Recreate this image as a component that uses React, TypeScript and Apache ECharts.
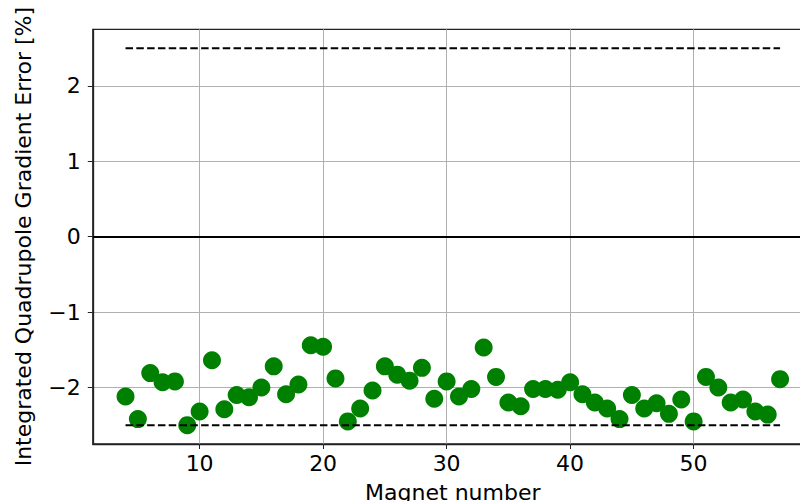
import React, { useEffect, useRef } from "react";
import * as echarts from "echarts";

const magnets: number[] = [
  4, 5, 6, 7, 8, 9, 10, 11, 12, 13, 14, 15, 16, 17, 18, 19, 20, 21, 22, 23, 24, 25, 26, 27, 28, 29, 30,
  31, 32, 33, 34, 35, 36, 37, 38, 39, 40, 41, 42, 43, 44, 45, 46, 47, 48, 49, 50, 51, 52, 53, 54, 55, 56, 57,
];
const errors: number[] = [
  -2.12, -2.42, -1.81, -1.93, -1.92, -2.5, -2.32, -1.64, -2.29, -2.1, -2.13, -2.0, -1.72, -2.09, -1.96,
  -1.44, -1.46, -1.88, -2.45, -2.28, -2.04, -1.72, -1.83, -1.91, -1.74, -2.15, -1.92, -2.12, -2.02,
  -1.47, -1.86, -2.2, -2.25, -2.02, -2.02, -2.03, -1.93, -2.09, -2.2, -2.28, -2.42, -2.1, -2.28, -2.21,
  -2.35, -2.16, -2.45, -1.86, -2.0, -2.2, -2.16, -2.32, -2.36, -1.89,
];
const limitUpper = 2.5;
const limitLower = -2.5;
const limitStart = 4;
const limitEnd = 57;
const xTicks: number[] = [10, 20, 30, 40, 50];
const yTicks: number[] = [-2, -1, 0, 1, 2];

const FONT = "DejaVu Sans";
const FS = 22;

export default function App() {
  const ref = useRef<HTMLDivElement>(null);
  useEffect(() => {
    if (!ref.current) return;
    const chart = echarts.init(ref.current, undefined, { renderer: "svg" });
    const dash = [7.5, 3.3];
    chart.setOption({
      animation: false,
      backgroundColor: "#ffffff",
      grid: {
        left: 92.8,
        top: 29.3,
        width: 720,
        height: 414.7,
        containLabel: false,
        outerBoundsMode: "none",
        show: true,
        borderColor: "#222",
        borderWidth: 1.3,
        backgroundColor: "transparent",
      },
      xAxis: {
        type: "value",
        min: 1.35,
        max: 59.65,
        name: "Magnet number",
        nameLocation: "middle",
        nameGap: 37,
        nameTextStyle: { fontFamily: FONT, fontSize: FS, color: "#000" },
        axisLine: { show: true, onZero: false, lineStyle: { color: "#222", width: 1.3 } },
        axisTick: { show: true, length: 5, lineStyle: { color: "#222", width: 1 }, customValues: xTicks },
        axisLabel: {
          fontFamily: FONT,
          fontSize: FS,
          color: "#000",
          margin: 8,
          customValues: xTicks,
          formatter: (v: number) => String(v),
        },
        splitLine: { show: false },
      },
      yAxis: {
        type: "value",
        min: -2.75,
        max: 2.75,
        name: "Integrated Quadrupole Gradient Error [%]",
        nameLocation: "middle",
        nameGap: 58,
        nameTextStyle: { fontFamily: FONT, fontSize: FS, color: "#000" },
        axisLine: { show: true, onZero: false, lineStyle: { color: "#222", width: 1.3 } },
        axisTick: { show: true, length: 5, lineStyle: { color: "#222", width: 1 }, customValues: yTicks },
        axisLabel: {
          fontFamily: FONT,
          fontSize: FS,
          color: "#000",
          margin: 12,
          customValues: yTicks,
          formatter: (v: number) => (v < 0 ? "\u2212" + Math.abs(v) : String(v)),
        },
        splitLine: { show: false },
      },
      series: [
        {
          type: "line",
          data: [],
          silent: true,
          showSymbol: false,
          z: 0,
          markLine: {
            silent: true,
            symbol: "none",
            label: { show: false },
            lineStyle: { color: "#b0b0b0", width: 1, type: "solid" },
            data: [
              ...yTicks.filter((t) => t !== 0).map((t) => ({ yAxis: t })),
              ...xTicks.map((t) => ({ xAxis: t })),
            ],
            z: 0,
          },
        },
        {
          type: "scatter",
          data: magnets.map((m, i) => [m, errors[i]]),
          symbol: "circle",
          symbolSize: 18,
          itemStyle: { color: "#008000", opacity: 1 },
          z: 3,
        },
        {
          type: "line",
          data: [
            [limitStart, limitUpper],
            [limitEnd, limitUpper],
          ],
          showSymbol: false,
          symbol: "none",
          lineStyle: { color: "#000", width: 2, type: dash },
          z: 4,
        },
        {
          type: "line",
          data: [
            [limitStart, limitLower],
            [limitEnd, limitLower],
          ],
          showSymbol: false,
          symbol: "none",
          lineStyle: { color: "#000", width: 2, type: dash },
          z: 4,
          markLine: {
            silent: true,
            symbol: "none",
            label: { show: false },
            lineStyle: { color: "#000", width: 2, type: "solid" },
            data: [{ yAxis: 0 }],
          },
        },
      ],
    });
    return () => chart.dispose();
  }, []);
  return <div ref={ref} style={{ width: 800, height: 501, position: "absolute", left: 0, top: 0 }} />;
}
